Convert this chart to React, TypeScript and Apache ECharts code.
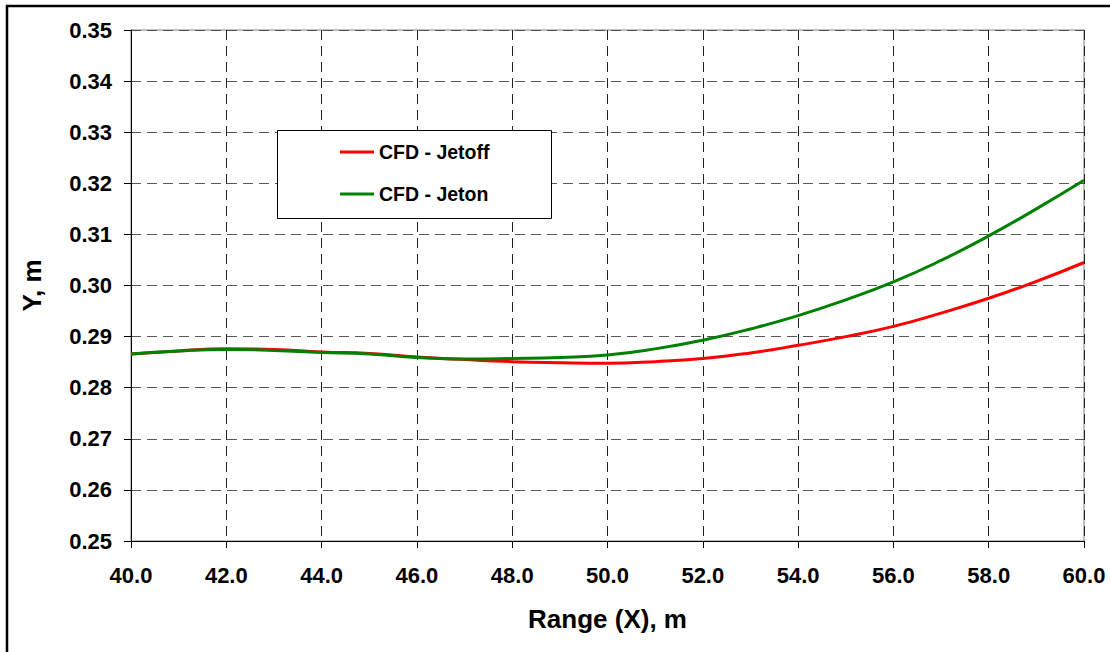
import React, { useEffect, useRef } from "react";
import * as echarts from "echarts";

const xValues = [40, 41, 42, 43, 44, 45, 46, 47, 48, 49, 50, 51, 52, 53, 54, 55, 56, 57, 58, 59, 60];
const jetoffY = [0.2866, 0.2872, 0.2876, 0.2875, 0.287, 0.2867, 0.286, 0.2855, 0.2851, 0.2849, 0.2848, 0.2851, 0.2857, 0.2868, 0.2883, 0.29, 0.292, 0.2946, 0.2975, 0.3008, 0.3045];
const jetonY = [0.2866, 0.2872, 0.2875, 0.2873, 0.2869, 0.2866, 0.2859, 0.2856, 0.2857, 0.2859, 0.2864, 0.2876, 0.2893, 0.2915, 0.2941, 0.2972, 0.3007, 0.3049, 0.3097, 0.315, 0.3206];
const seriesNames = ["CFD - Jetoff", "CFD - Jeton"];
const xAxisTitle = "Range (X), m";
const yAxisTitle = "Y, m";

const FONT = "Arial, 'Liberation Sans', Helvetica, sans-serif";

export default function App() {
  const ref = useRef<HTMLDivElement>(null);
  useEffect(() => {
    document.body.style.margin = "0";
    if (!ref.current) return;
    const chart = echarts.init(ref.current, null, { renderer: "svg" });
    const pair = (ys: number[]) => xValues.map((x, i) => [x, ys[i]]);
    chart.setOption({
      animation: false,
      backgroundColor: "#ffffff",
      textStyle: { fontFamily: FONT },
      grid: {
        left: 131,
        top: 30,
        right: 26,
        bottom: 111,
        show: true,
        borderColor: "#808080",
        borderWidth: 1,
        backgroundColor: "transparent",
      },
      xAxis: {
        type: "value",
        min: 40,
        max: 60,
        interval: 2,
        name: xAxisTitle,
        nameLocation: "middle",
        nameGap: 65,
        nameTextStyle: { fontSize: 26, fontWeight: "bold", color: "#000", fontFamily: FONT },
        axisLine: { show: true, onZero: false, lineStyle: { color: "#000", width: 1 } },
        axisTick: { show: true, inside: false, length: 7, lineStyle: { color: "#000" } },
        axisLabel: {
          margin: 23,
          fontSize: 22,
          fontWeight: "bold",
          color: "#000",
          fontFamily: FONT,
          formatter: (v: number) => v.toFixed(1),
        },
        splitLine: { show: true, lineStyle: { color: "#222", type: [10, 6], width: 1 } },
      },
      yAxis: {
        type: "value",
        min: 0.25,
        max: 0.35,
        interval: 0.01,
        name: yAxisTitle,
        nameLocation: "middle",
        nameGap: 86,
        nameTextStyle: { fontSize: 26, fontWeight: "bold", color: "#000", fontFamily: FONT },
        axisLine: { show: true, onZero: false, lineStyle: { color: "#000", width: 1 } },
        axisTick: { show: true, inside: false, length: 7, lineStyle: { color: "#000" } },
        axisLabel: {
          margin: 19,
          fontSize: 22,
          fontWeight: "bold",
          color: "#000",
          fontFamily: FONT,
          formatter: (v: number) => v.toFixed(2),
        },
        splitLine: { show: true, lineStyle: { color: "#555", type: [10, 6], width: 1 } },
      },
      legend: {
        orient: "vertical",
        left: 340,
        top: 142,
        padding: 0,
        itemWidth: 34,
        itemHeight: 14,
        itemGap: 22,
        icon: "path://M0,6 L34,6 L34,9 L0,9 Z",
        textStyle: { fontSize: 19.5, fontWeight: "bold", color: "#000", fontFamily: FONT, lineHeight: 20 },
        data: seriesNames,
        z: 10,
      },
      graphic: [
        {
          type: "rect",
          left: 277,
          top: 130,
          shape: { width: 274, height: 88 },
          style: { fill: "#ffffff", stroke: "#000", lineWidth: 1 },
          z: 5,
        },
        {
          type: "rect",
          shape: { x: 7, y: 6, width: 1200, height: 800 },
          style: { fill: "none", stroke: "#000", lineWidth: 2.5 },
          z: 1,
        },
      ],
      series: [
        {
          name: seriesNames[0],
          type: "line",
          data: pair(jetoffY),
          smooth: true,
          symbol: "none",
          lineStyle: { color: "#ff0000", width: 3 },
          itemStyle: { color: "#ff0000" },
          z: 2,
        },
        {
          name: seriesNames[1],
          type: "line",
          data: pair(jetonY),
          smooth: true,
          symbol: "none",
          lineStyle: { color: "#008000", width: 3 },
          itemStyle: { color: "#008000" },
          z: 3,
        },
      ],
    });
    return () => chart.dispose();
  }, []);
  return (
    <div
      ref={ref}
      style={{ position: "absolute", left: 0, top: 0, width: 1110, height: 652 }}
    />
  );
}
